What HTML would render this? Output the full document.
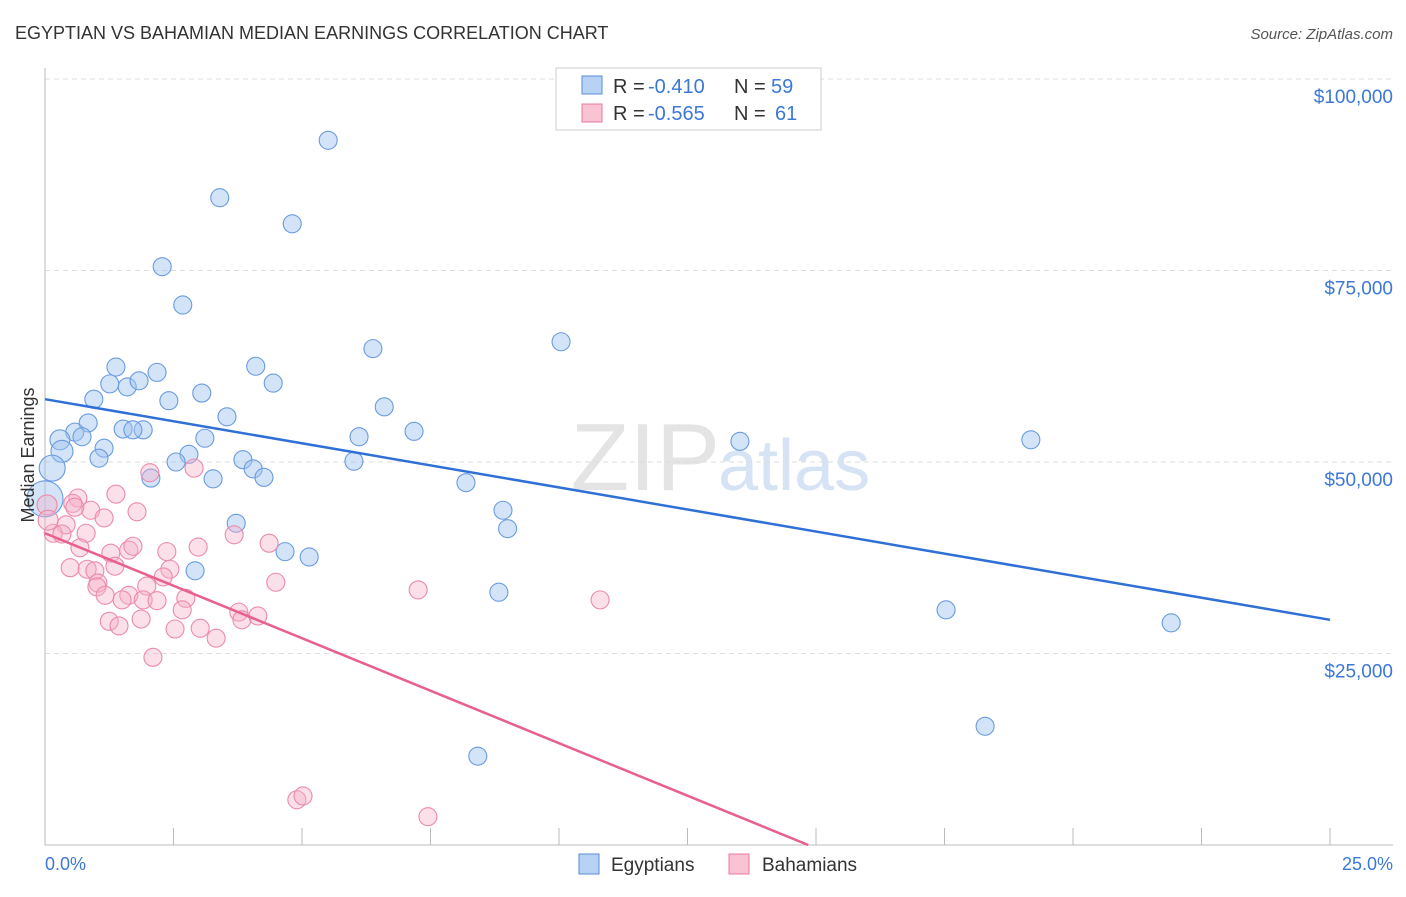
<!DOCTYPE html>
<html><head><meta charset="utf-8"><style>
body{margin:0;background:#fff;font-family:"Liberation Sans",sans-serif;}
svg text{font-family:"Liberation Sans",sans-serif;}
</style></head><body>
<svg id="chart" width="1406" height="892" xmlns="http://www.w3.org/2000/svg">
<text x="15" y="39" font-size="18" fill="#333">EGYPTIAN VS BAHAMIAN MEDIAN EARNINGS CORRELATION CHART</text>
<text x="1393" y="39" font-size="15" fill="#555" font-style="italic" text-anchor="end">Source: ZipAtlas.com</text>
<text x="720" y="490" font-size="96" fill="#e4e4e4" text-anchor="end" font-family="Liberation Serif">ZIP</text>
<text x="718" y="490" font-size="72" fill="#d5e3f5">atlas</text>
<g id="grid"></g><g id="axes"></g><g id="pts"></g><g id="lines"></g>
<text x="34" y="455" font-size="18" fill="#333" text-anchor="middle" transform="rotate(-90 34 455)">Median Earnings</text>
<text x="45" y="870" font-size="18" fill="#3b78d8">0.0%</text>
<text x="1393" y="870" font-size="18" fill="#3b78d8" text-anchor="end">25.0%</text>
<g>
<rect x="556" y="68" width="265" height="62" fill="#fff" stroke="#ccc"/>
<rect x="582" y="76" width="20" height="18" fill="#b7d2f5" stroke="#5b8fd8"/>
<rect x="582" y="104" width="20" height="18" fill="#f9c3d4" stroke="#e87a9d"/>
<text x="613" y="93" font-size="20" fill="#333">R =</text>
<text x="648" y="93" font-size="20" fill="#3b78d8">-0.410</text>
<text x="734" y="93" font-size="20" fill="#333">N =</text>
<text x="771" y="93" font-size="20" fill="#3b78d8">59</text>
<text x="613" y="120" font-size="20" fill="#333">R =</text>
<text x="648" y="120" font-size="20" fill="#3b78d8">-0.565</text>
<text x="734" y="120" font-size="20" fill="#333">N =</text>
<text x="775" y="120" font-size="20" fill="#3b78d8">61</text>
</g>
<g><rect x="579" y="854" width="20" height="20" fill="#b7d2f5" stroke="#5b8fd8"/><text x="611" y="871" font-size="19" fill="#333">Egyptians</text></g>
<g><rect x="729" y="854" width="20" height="20" fill="#f9c3d4" stroke="#e87a9d"/><text x="762" y="871" font-size="19" fill="#333">Bahamians</text></g>
</svg>
<script>
const yTicks=[25000,50000,75000,100000];
const yTickLabels=["$25,000","$50,000","$75,000","$100,000"];
const egX=[5.51,3.40,4.81,2.28,2.68,6.38,10.04,1.38,4.10,2.18,1.26,1.60,1.83,4.44,0.95,2.41,3.05,6.60,3.54,0.84,0.58,1.52,1.91,1.71,7.18,0.29,0.72,3.11,6.11,13.52,19.18,1.15,0.33,1.05,2.80,2.55,3.85,6.01,0.14,4.05,4.26,2.06,3.27,8.19,0,8.91,9.0,3.72,4.67,5.14,2.92,8.83,17.53,21.91,18.29,8.42];
const egY=[92000,84500,81100,75500,70500,64800,65700,62400,62500,61700,60200,59800,60600,60300,58200,58000,59000,57200,55900,55100,53900,54300,54200,54200,54000,52900,53300,53100,53300,52700,52900,51800,51400,50500,51000,50000,50300,50100,49200,49100,48000,47900,47800,47300,45200,43700,41300,42000,38300,37600,35800,33000,30700,29000,15500,11600];
const egR=[9,9,9,9,9,9,9,9,9,9,9,9,9,9,9,9,9,9,9,9,9,9,9,9,9,10,9,9,9,9,9,9,11,9,9,9,9,9,13,9,9,9,9,9,18,9,9,9,9,9,9,9,9,9,9,9];
const bhX=[2.04,2.90,1.38,0.64,0.54,0.89,0.58,1.79,1.15,0.41,0.16,0.33,0.80,3.68,0.68,1.28,1.63,1.71,2.37,2.98,4.36,1.36,0.49,0.82,0.97,2.43,2.30,1.03,1.98,1.01,1.17,1.63,1.50,1.91,2.18,2.74,2.67,3.77,3.83,4.14,4.49,1.25,1.44,1.87,2.53,3.02,3.33,2.10,7.26,10.80,4.90,5.02,7.45,0.04,0.06];
const bhY=[48600,49200,45800,45300,44600,43700,44100,43500,42700,41800,40700,40600,40700,40500,38800,38100,38500,39000,38300,38900,39400,36400,36200,36000,35800,36000,35000,34200,33800,33700,32600,32600,32000,32000,31900,32200,30700,30400,29400,29900,34300,29200,28600,29500,28200,28300,27000,24500,33300,32000,5900,6400,3700,44400,42400];
const egTrend=[58200,29400];
const bhTrend=[40700,-2741];
const NS="http://www.w3.org/2000/svg";
const X=v=>45+v/25*1285;
const Y=v=>845-v/25000*191.5;
function mk(tag,attrs,parent){const e=document.createElementNS(NS,tag);for(const k in attrs)e.setAttribute(k,attrs[k]);document.getElementById(parent).appendChild(e);return e;}
yTicks.forEach((t,i)=>{
 const g=mk('line',{x1:45,x2:1393,y1:Y(t),y2:Y(t),stroke:'#ddd','stroke-dasharray':'5,4'},'grid');
 
 
 const tx=mk('text',{x:1393,y:Y(t)+24,'font-size':19,fill:'#3b78d8','text-anchor':'end'},'grid');
 tx.textContent=yTickLabels[i];
 
 
});
const ax=mk('line',{x1:45,x2:1393,y1:845,y2:845,stroke:'#bbb'},'axes');


const ay=mk('line',{x1:45,x2:45,y1:68,y2:845,stroke:'#bbb'},'axes');


for(let i=0;i<=10;i++){const t=mk('line',{x1:X(i*2.5),x2:X(i*2.5),y1:828,y2:845,stroke:'#bbb'},'axes');
 
 }
egX.forEach((v,i)=>{const c=mk('circle',{cx:X(v),cy:Y(egY[i]),r:egR[i],fill:'rgba(160,196,240,0.45)',stroke:'#6a9be0','stroke-width':1.1},'pts');
 
 });
bhX.forEach((v,i)=>{const c=mk('circle',{cx:X(v),cy:Y(bhY[i]),r:(i>=53?10:9),fill:'rgba(245,176,200,0.4)',stroke:'#ec8aaa','stroke-width':1.1},'pts');
 
 });
const l1=mk('line',{x1:X(0),y1:Y(egTrend[0]),x2:X(25),y2:Y(egTrend[1]),stroke:'#2f6fd6','stroke-width':2.5},'lines');


const xEnd=-bhTrend[0]/bhTrend[1];
const l2=mk('line',{x1:X(0),y1:Y(bhTrend[0]),x2:X(xEnd),y2:Y(0),stroke:'#e8608c','stroke-width':2.5},'lines');


</script>
</body></html>
